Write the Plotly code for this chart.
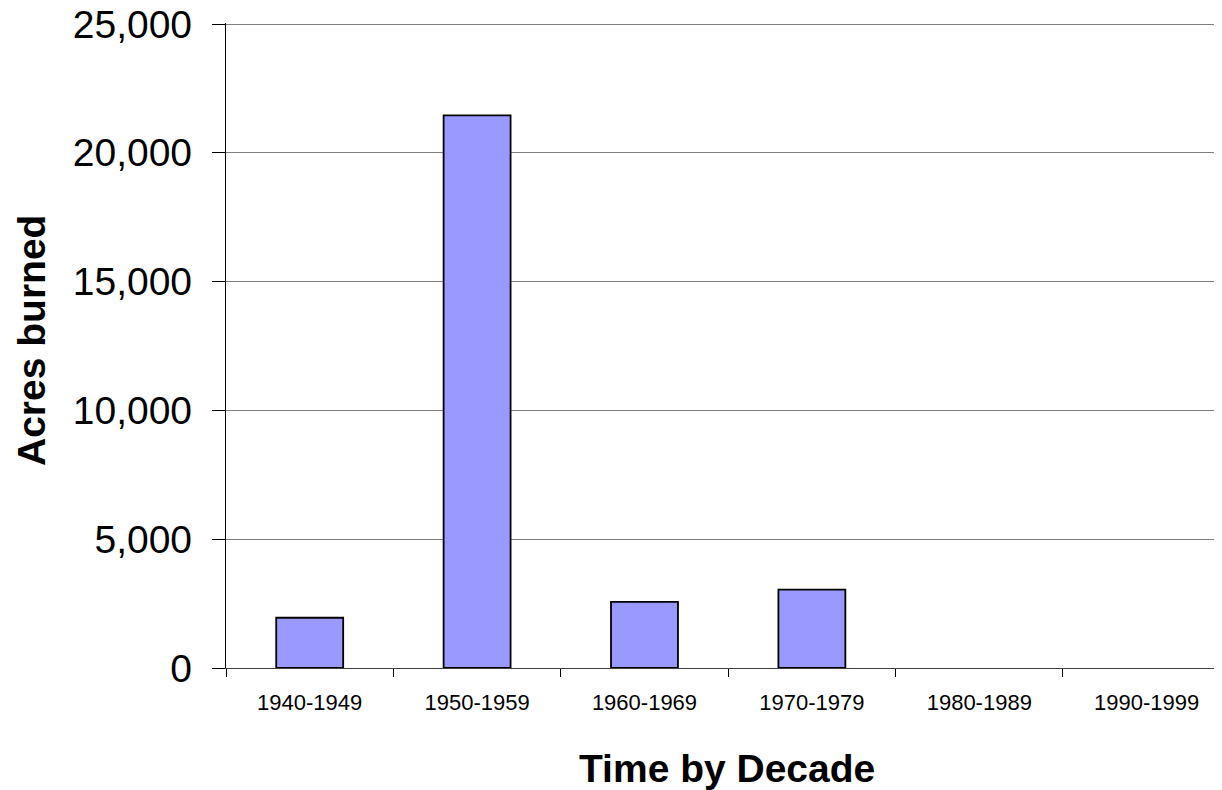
import plotly.graph_objects as go

decades = ["1940-1949", "1950-1959", "1960-1969", "1970-1979", "1980-1989", "1990-1999"]
acres = [1950, 21450, 2570, 3040, 0, 0]
y_ticks = [0, 5000, 10000, 15000, 20000, 25000]

x_pos = list(range(len(decades)))
boundaries = [i - 0.5 for i in range(len(decades) + 1)]

# The page body has an 8px margin, so the figure is placed at (8, 8) in the window.
OFF = 8
W, H = 1222 - OFF, 790 - OFF
L, T = 226 - OFF, 23 - OFF
B = H - (668 - OFF)
PW, PH = W - L, H - T - B

fig = go.Figure()
fig.add_trace(go.Bar(
    x=x_pos, y=acres,
    marker=dict(color="#9999FF",
                line=dict(color="black", width=[1.8 if v > 0 else 0 for v in acres])),
    width=0.4,
    hoverinfo="skip",
))

fig.update_layout(
    width=W, height=H,
    margin=dict(l=L, r=0, t=T, b=B, pad=0),
    plot_bgcolor="white", paper_bgcolor="white",
    showlegend=False,
    font=dict(family="Liberation Sans, Arial, sans-serif", color="black"),
    xaxis=dict(
        range=[-0.5, 5.45],
        tickmode="array", tickvals=x_pos, ticktext=decades,
        ticks="", showgrid=False, zeroline=False,
        showline=True, linecolor="#404040", linewidth=1.3,
        tickfont=dict(family="Liberation Sans, Arial, sans-serif", size=22),
        ticklabelstandoff=14,
        minor=dict(tickmode="array", tickvals=boundaries, ticks="outside", ticklen=8,
                   tickcolor="black", tickwidth=1, showgrid=False),
    ),
    yaxis=dict(
        range=[0, 25040],
        tickmode="array", tickvals=y_ticks, tickformat=",",
        ticks="outside", ticklen=13, tickcolor="black", tickwidth=1.3,
        showgrid=True, gridcolor="#808080", gridwidth=1.3,
        zeroline=False,
        showline=True, linecolor="black", linewidth=1.3,
        tickfont=dict(size=39),
        ticklabelstandoff=12,
        ticklabeloverflow="allow",
        automargin=False,
    ),
    annotations=[
        dict(text="<b>Time by Decade</b>", xref="paper", yref="paper",
             x=(727 - 226) / PW, y=-(768 - 668) / PH, xanchor="center", yanchor="middle",
             showarrow=False, font=dict(size=39)),
        dict(text="<b>Acres burned</b>", xref="paper", yref="paper",
             x=-(226 - 31) / PW, y=(668 - 341) / PH, xanchor="center", yanchor="middle",
             textangle=-90, showarrow=False, font=dict(size=39)),
    ],
)

fig.write_html("out.html")
